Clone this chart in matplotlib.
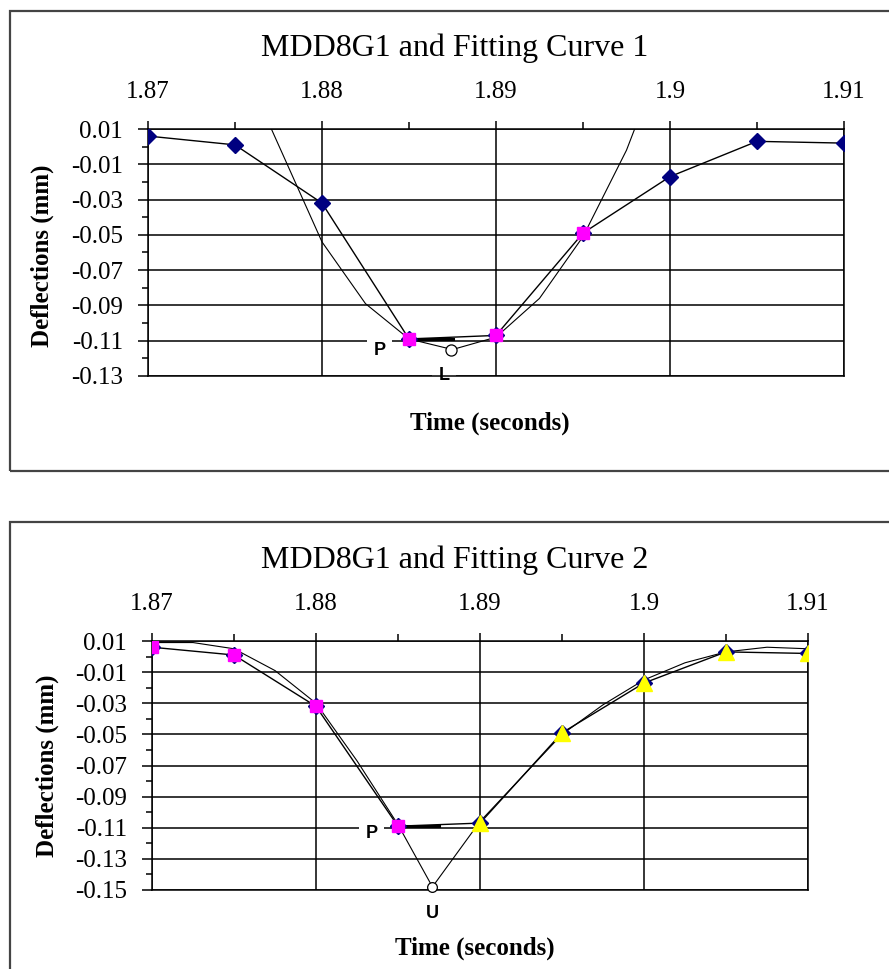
import numpy as np
import matplotlib
matplotlib.use("Agg")
import matplotlib.pyplot as plt
from matplotlib.patches import Rectangle

plt.rcParams['font.family'] = ['Liberation Serif', 'DejaVu Serif']

# measured deflections (mm) vs time (s)
time = [1.87, 1.875, 1.88, 1.885, 1.89, 1.895, 1.9, 1.905, 1.91]
deflection = [0.006, 0.001, -0.032, -0.109, -0.107, -0.049, -0.017, 0.003, 0.002]

# fitting curve 1 (parabola through the three pink points)
fit1_t = [1.875, 1.88, 1.8825, 1.885, 1.8875, 1.89, 1.8925, 1.895, 1.8975, 1.9]
fit1_d = [0.056, -0.054, -0.089, -0.109, -0.115, -0.108, -0.086, -0.051, -0.002, 0.062]
point_L = (1.8874, -0.1153)

# fitting curve 2 (left and right branches meeting at U)
fit2a_t = [1.87, 1.8725, 1.875, 1.8775, 1.88, 1.8825, 1.885, 1.8871]
fit2a_d = [0.009, 0.009, 0.005, -0.009, -0.030, -0.067, -0.108, -0.148]
fit2b_t = [1.8871, 1.89, 1.8925, 1.895, 1.8975, 1.9, 1.9025, 1.905, 1.9075, 1.91]
fit2b_d = [-0.148, -0.106, -0.078, -0.050, -0.031, -0.015, -0.004, 0.003, 0.006, 0.005]
point_U = (1.8871, -0.148)

peak_t = [1.885, 1.8875]
peak_d = [-0.109, -0.109]

xticks = [1.87, 1.88, 1.89, 1.9, 1.91]
xlabels = ['1.87', '1.88', '1.89', '1.9', '1.91']
yticks1 = [0.01, -0.01, -0.03, -0.05, -0.07, -0.09, -0.11, -0.13]
ylabels1 = ['0.01', '-0.01', '-0.03', '-0.05', '-0.07', '-0.09', '-0.11', '-0.13']
yticks2 = yticks1 + [-0.15]
ylabels2 = ylabels1 + ['-0.15']

NAVY = '#000080'
PINK = '#FF00FF'
YELLOW = '#FFFF00'

W, H = 889, 969
fig = plt.figure(figsize=(W / 100, H / 100), dpi=100)

# chart area frames
fig.patches.append(Rectangle((10 / W, 1 - 471 / H), 1.0, 460 / H, transform=fig.transFigure,
                             fill=False, edgecolor='#444444', lw=1.6))
fig.patches.append(Rectangle((10 / W, -0.05), 1.0, 1 - 522 / H + 0.05, transform=fig.transFigure,
                             fill=False, edgecolor='#444444', lw=1.6))


def setup(ax, yticks, ylabels, title, title_y):
    ax.set_xlim(1.87, 1.91)
    ax.set_ylim(yticks[-1], yticks[0])
    ax.xaxis.tick_top()
    ax.set_xticks(xticks)
    ax.set_xticklabels(xlabels)
    ax.set_xticks(np.arange(1.875, 1.91, 0.01), minor=True)
    ax.set_yticks(yticks)
    ax.set_yticklabels(ylabels)
    ax.set_yticks(np.array(yticks[:-1]) - 0.01, minor=True)
    ax.tick_params(axis='x', which='major', direction='out', length=6, width=1.1, pad=13, labelsize=18)
    ax.tick_params(axis='x', which='minor', direction='out', length=5, width=1.1)
    ax.tick_params(axis='y', which='major', direction='out', length=7, width=1.1, pad=11, labelsize=18)
    ax.tick_params(axis='y', which='minor', direction='out', length=4.5, width=1.1)
    ax.grid(True, which='major', color='black', lw=1.1, zorder=1)
    ax.set_axisbelow(True)
    for s in ax.spines.values():
        s.set_linewidth(1.1)
    ax.set_ylabel('Deflections (mm)', fontweight='bold', fontsize=18)
    ax.set_xlabel('Time (seconds)', fontweight='bold', fontsize=18)
    fig.text(455 / W, 1 - title_y / H, title, ha='center', va='center', fontsize=23)


def label(ax, x, y, s):
    ax.text(x, y, s, ha='center', va='center', fontsize=13, fontweight='bold',
            family='Liberation Sans', zorder=2.5, clip_on=False,
            bbox=dict(boxstyle='square,pad=0.35', fc='white', ec='none'))


# ---- top panel ----
ax1 = fig.add_axes([148 / W, 1 - 376 / H, 696 / W, 247 / H])
setup(ax1, yticks1, ylabels1, 'MDD8G1 and Fitting Curve 1', 48)
ax1.yaxis.set_label_coords(-0.135, 0.488)
ax1.xaxis.set_label_coords(0.491, -0.145)
label(ax1, 1.8833, -0.1155, 'P')
label(ax1, 1.8870, -0.13, 'L')
ax1.plot(time, deflection, color='black', lw=1.0, zorder=3)
ax1.plot(fit1_t, fit1_d, color='black', lw=0.8, zorder=3)
ax1.plot(peak_t, peak_d, color='black', lw=2.2, zorder=3)
ax1.plot(time, deflection, ls='none', marker='D', ms=8, color=NAVY, zorder=4)
ax1.plot(time[3:6], deflection[3:6], ls='none', marker='s', ms=9, color=PINK, zorder=5)
ax1.plot(*point_L, marker='o', ms=8, mfc='white', mec='black', mew=0.9, zorder=6)

# ---- bottom panel ----
ax2 = fig.add_axes([152 / W, 1 - 890 / H, 656 / W, 249 / H])
setup(ax2, yticks2, ylabels2, 'MDD8G1 and Fitting Curve 2', 560)
ax2.yaxis.set_label_coords(-0.142, 0.498)
ax2.xaxis.set_label_coords(0.492, -0.188)
label(ax2, 1.8834, -0.1134, 'P')
ax2.text(point_U[0], -0.1648, 'U', ha='center', va='center', fontsize=13, fontweight='bold',
         family='Liberation Sans', clip_on=False)
ax2.plot(time, deflection, color='black', lw=1.0, zorder=3)
ax2.plot(fit2a_t, fit2a_d, color='black', lw=0.8, zorder=3)
ax2.plot(fit2b_t, fit2b_d, color='black', lw=0.8, zorder=3)
ax2.plot(peak_t, peak_d, color='black', lw=2.2, zorder=3)
ax2.plot(time, deflection, ls='none', marker='D', ms=8, color=NAVY, zorder=4)
ax2.plot(time[:4], deflection[:4], ls='none', marker='s', ms=9, color=PINK, zorder=5)
ax2.plot(time[4:], deflection[4:], ls='none', marker='^', ms=11, color=YELLOW, zorder=5)
ax2.plot(*point_U, marker='o', ms=7, mfc='white', mec='black', mew=0.9, zorder=6, clip_on=False)

fig.savefig('out.png', dpi=100)
